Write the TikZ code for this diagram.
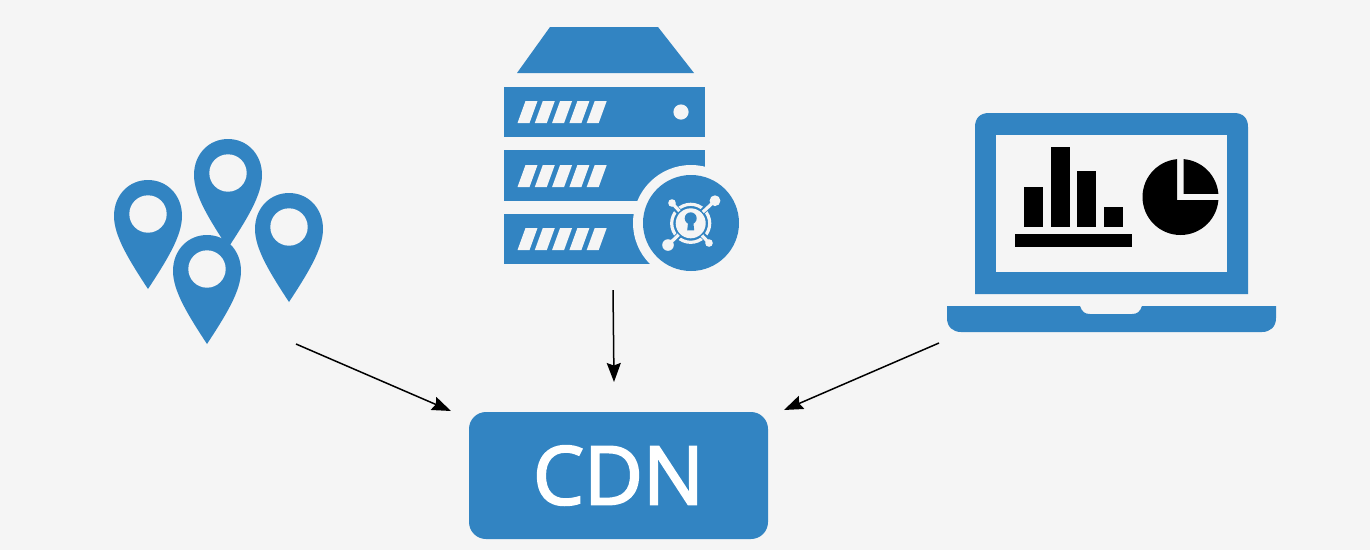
\documentclass[tikz,border=0pt]{standalone}
\usepackage{fontspec}
\setmainfont{Open Sans}
\newfontfamily\cdnfont{Open Sans}[FakeBold=2.5]
\usetikzlibrary{arrows.meta}
\definecolor{bg}{HTML}{F5F5F5}
\definecolor{blu}{HTML}{3284C2}
\tikzset{
  arrowline/.style={draw=black,line width=1.5pt,-{Stealth[length=19pt,width=14pt,inset=2.5pt]}},
  pinshape/.pic={
    \fill[blu] (-34,2) .. controls (-34,-19) and (-19,-34) .. (0,-34)
      .. controls (19,-34) and (34,-19) .. (34,2)
      .. controls (34,22) and (19,46) .. (0,75)
      .. controls (-19,46) and (-34,22) .. (-34,2) -- cycle;
    \fill[bg] (0,0) circle (18.7);
  }
}
\newcommand{\stripes}[1]{%
  \foreach \k in {0,...,4}{
    \fill[bg] ({517.5+17.3*\k},#1+22) -- ({525.5+17.3*\k},#1) -- ({537.5+17.3*\k},#1) -- ({529.5+17.3*\k},#1+22) -- cycle;
  }}
\begin{document}
\begin{tikzpicture}[x=1pt,y=-1pt]
\useasboundingbox (0,0) rectangle (1370,550);
\fill[bg] (0,0) rectangle (1370,550);
% pins
\pic at (148,214) {pinshape};
\pic at (228,173) {pinshape};
\pic at (289,227) {pinshape};
\pic at (207,269) {pinshape};
% server
\fill[blu] (550,27) -- (658,27) -- (694,73) -- (517,73) -- cycle;
\fill[blu] (504,87) rectangle (705,137);
\fill[blu] (504,150) rectangle (705,201);
\fill[blu] (504,214) rectangle (705,264);
\stripes{101}\stripes{165}\stripes{228}
\fill[bg] (681,112) circle (7.6);
\fill[bg] (691,223) circle (58);
\fill[bg] (705,170) rectangle (760,290);
\fill[blu] (691,223) circle (48);
% key symbol
\begin{scope}[shift={(690.7,223.3)}]
\draw[bg,line width=3.2pt] (0,0) circle (19);
\draw[blu,line width=6pt] (45:13) -- (45:25);
\draw[blu,line width=6pt] (135:13) -- (135:25);
\draw[blu,line width=6pt] (225:13) -- (225:25);
\draw[blu,line width=6pt] (315:13) -- (315:25);
\draw[bg,line width=3.2pt] (0,0) -- (24.3,-22.6);
\fill[bg] (24.3,-22.6) circle (5.4);
\draw[bg,line width=3.2pt] (0,0) -- (-22.7,21.7);
\fill[bg] (-22.7,21.7) circle (5.8);
\draw[bg,line width=3.2pt] (0,0) -- (-18.7,-20.3);
\fill[bg] (-18.7,-20.3) circle (3.8);
\draw[bg,line width=3.2pt] (0,0) -- (18.3,19.7);
\fill[bg] (18.3,19.7) circle (3.8);
\fill[blu] (0,0) circle (16.5);
\fill[bg] (0,0) circle (15);
\fill[blu] (0,-5) circle (6);
\fill[blu] (-2.5,-2) -- (2.5,-2) -- (3.5,7) -- (-3.5,7) -- cycle;
\end{scope}
% laptop
\fill[blu] (975,294) -- (975,127) .. controls (975,118) and (980,113) .. (989,113)
  -- (1234,113) .. controls (1243,113) and (1248,118) .. (1248,127) -- (1248,294) -- cycle;
\fill[bg] (996,135) rectangle (1227,272);
\fill[blu] (947,306) -- (1080,306) .. controls (1082,312) and (1085,314) .. (1090,314)
  -- (1132,314) .. controls (1137,314) and (1140,312) .. (1142,306) -- (1276,306) -- (1276,318)
  .. controls (1276,327) and (1270,332) .. (1262,332) -- (961,332)
  .. controls (953,332) and (947,327) .. (947,318) -- cycle;
\fill[black] (1024,187) rectangle (1043,227);
\fill[black] (1051,147) rectangle (1070,227);
\fill[black] (1077,171) rectangle (1096,227);
\fill[black] (1104,207) rectangle (1123,227);
\fill[black] (1015,234) rectangle (1132,247);
\begin{scope}
\clip (1130,140) -- (1177,140) -- (1177,200) -- (1230,200) -- (1230,250) -- (1130,250) -- cycle;
\fill[black] (1180.5,197) circle (38);
\end{scope}
\begin{scope}
\clip (1183.5,150) rectangle (1230,193.7);
\fill[black] (1180.5,197) circle (38);
\end{scope}
% CDN
\node[fill=blu,rounded corners=17pt,minimum width=299pt,minimum height=127pt,inner sep=0pt,
  font=\cdnfont\fontsize{81}{81}\selectfont,text=white] (cdn) at (618.5,475.5) {\raisebox{-2pt}{CDN}};
% connectors
\coordinate (pinsout) at (296,344);
\coordinate (srvout) at (613,290);
\coordinate (lapout) at (939,343);
\coordinate (cdnl) at (451,411);
\coordinate (cdnt) at (614,382);
\coordinate (cdnr) at (784,410);
\draw[arrowline] (pinsout) -- (cdnl);
\draw[arrowline] (srvout) -- (cdnt);
\draw[arrowline] (lapout) -- (cdnr);
\end{tikzpicture}
\end{document}
